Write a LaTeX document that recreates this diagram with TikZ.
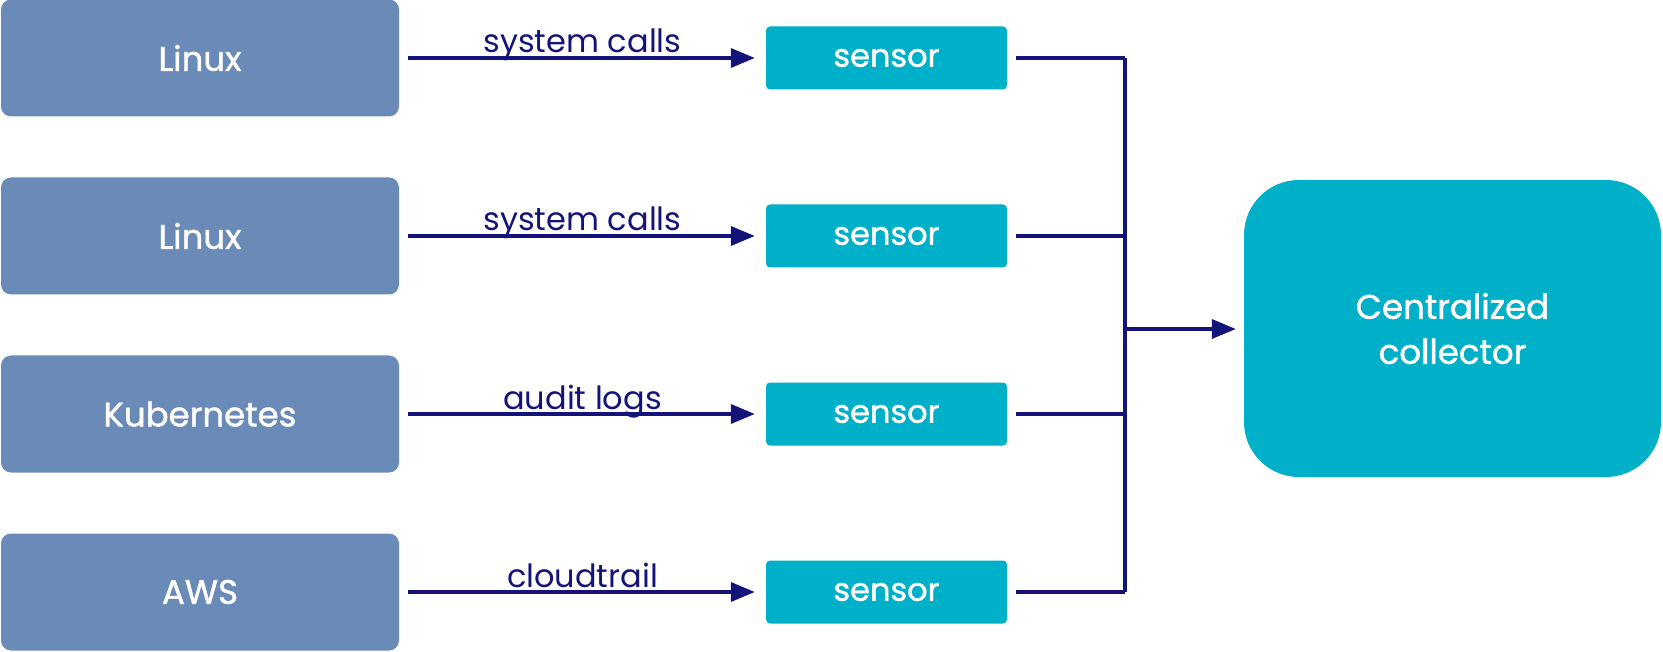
\documentclass[tikz,border=0pt]{standalone}
\usepackage{fontspec}
\setmainfont{Poppins}
\newfontfamily\boxfont{Poppins}[FakeBold=1.3]
\usetikzlibrary{arrows.meta,calc}
\definecolor{hostblue}{HTML}{6A8BB7}
\definecolor{teal}{HTML}{00AFC8}
\definecolor{navy}{HTML}{14137A}
\begin{document}
\begin{tikzpicture}[x=1pt,y=-1pt,
  hostbox/.style={draw=none,fill=hostblue,rounded corners=10pt,minimum width=398pt,minimum height=117pt,text=white,font=\boxfont\fontsize{34}{40}\selectfont,inner sep=0pt},
  sensorbox/.style={draw=none,fill=teal,rounded corners=4pt,minimum width=241pt,minimum height=63pt,text=white,font=\boxfont\fontsize{32}{38}\selectfont,inner sep=0pt},
  collbox/.style={draw=none,fill=teal,rounded corners=55pt,minimum width=417pt,minimum height=297pt,text=white,font=\boxfont\fontsize{34}{45}\selectfont,align=center,inner sep=0pt},
  feed/.style={draw=navy,line width=3.5pt,-{Triangle[length=24pt,width=19pt]},shorten <=9pt,shorten >=11pt},
  wire/.style={draw=navy,line width=3.5pt},
  lbl/.style={midway,anchor=base,yshift=5pt,text=navy,font=\fontsize{32}{38}\selectfont,inner sep=0pt}
]
\useasboundingbox (0,0) rectangle (1663,652);
\node[hostbox] (L1) at (200,58) {Linux};
\node[hostbox] (L2) at (200,236) {Linux};
\node[hostbox] (L3) at (200,414) {Kubernetes};
\node[hostbox] (L4) at (200,592) {AWS};
\node[sensorbox] (S1) at (886.5,58) {sensor};
\node[sensorbox] (S2) at (886.5,236) {sensor};
\node[sensorbox] (S3) at (886.5,414) {sensor};
\node[sensorbox] (S4) at (886.5,592) {sensor};
\node[collbox] (C) at (1452.5,328.5) {Centralized\\collector};
\draw[feed] (L1.east) -- (S1.west) node[lbl] {system calls};
\draw[feed] (L2.east) -- (S2.west) node[lbl] {system calls};
\draw[feed] (L3.east) -- (S3.west) node[lbl] {audit logs};
\draw[feed] (L4.east) -- (S4.west) node[lbl] {cloudtrail};
\coordinate (b1) at (1125,58);
\coordinate (b2) at (1125,236);
\coordinate (b3) at (1125,414);
\coordinate (b4) at (1125,592);
\coordinate (bm) at (1125,329);
\draw[wire] ([xshift=9pt]S1.east) -- (b1);
\draw[wire] ([xshift=9pt]S2.east) -- (b2);
\draw[wire] ([xshift=9pt]S3.east) -- (b3);
\draw[wire] ([xshift=9pt]S4.east) -- (b4);
\draw[wire] (b1) -- (b4);
\draw[feed,shorten <=0pt,shorten >=8pt] (bm) -- (bm -| C.west);
\end{tikzpicture}
\end{document}
